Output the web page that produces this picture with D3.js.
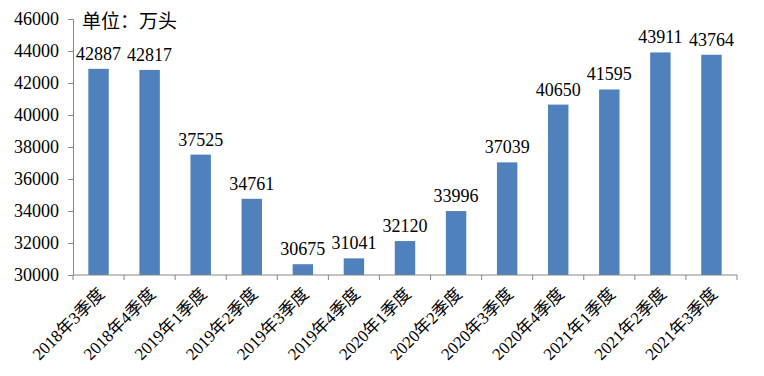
<!DOCTYPE html>
<html>
<head>
<meta charset="utf-8">
<script src="https://cdn.jsdelivr.net/npm/d3@7"></script>
<style>
  body { margin: 0; background: #fff; }
  text { font-family: "Liberation Serif", "Noto Sans CJK SC", serif; }
</style>
</head>
<body>
<div id="chart"></div>
<script>
var width = 764;
var height = 376;

// data
var quarters = ["2018年3季度", "2018年4季度", "2019年1季度", "2019年2季度", "2019年3季度",
                "2019年4季度", "2020年1季度", "2020年2季度", "2020年3季度", "2020年4季度",
                "2021年1季度", "2021年2季度", "2021年3季度"];
var stock = [42887, 42817, 37525, 34761, 30675, 31041, 32120, 33996, 37039, 40650, 41595, 43911, 43764];
var yTicks = [30000, 32000, 34000, 36000, 38000, 40000, 42000, 44000, 46000];
var unitLabel = "单位：万头";

var plotLeft = 73, plotRight = 737, plotTop = 19, plotBottom = 275;

var svg = d3.select("#chart").append("svg")
            .attr("width", width)
            .attr("height", height);

var x = d3.scaleBand().domain(quarters).range([plotLeft, plotRight]).paddingInner(0.6).paddingOuter(0.3);
var xTickPos = d3.scaleLinear().domain([0, quarters.length]).range([plotLeft, plotRight]);
var y = d3.scaleLinear().domain([30000, 46000]).range([plotBottom, plotTop]);

// bars
svg.append("g").selectAll("rect")
   .data(stock)
   .join("rect")
   .attr("x", function(d, i) { return x(quarters[i]); })
   .attr("y", function(d) { return y(d); })
   .attr("width", x.bandwidth())
   .attr("height", function(d) { return plotBottom - y(d); })
   .attr("fill", "#4F81BD");

// value labels
svg.append("g").selectAll("text")
   .data(stock)
   .join("text")
   .attr("x", function(d, i) { return x(quarters[i]) + x.bandwidth() / 2; })
   .attr("y", function(d) { return y(d) - 9; })
   .attr("text-anchor", "middle")
   .attr("font-size", 18)
   .attr("fill", "#000")
   .text(function(d) { return d; });

// y axis
var yAxis = svg.append("g")
   .attr("transform", "translate(" + plotLeft + ",0)")
   .call(d3.axisLeft(y).tickValues(yTicks).tickSize(5).tickPadding(9).tickFormat(d3.format("d")));
yAxis.select(".domain").attr("stroke", "#868686");
yAxis.selectAll(".tick line").attr("stroke", "#868686");
yAxis.selectAll(".tick text").attr("font-size", 18).attr("fill", "#000")
     .style("font-family", "'Liberation Serif', serif");

// x axis line and ticks between bands
svg.append("line")
   .attr("x1", plotLeft).attr("x2", plotRight)
   .attr("y1", plotBottom).attr("y2", plotBottom)
   .attr("stroke", "#868686");
svg.append("g").selectAll("line")
   .data(d3.range(quarters.length + 1))
   .join("line")
   .attr("x1", function(d) { return xTickPos(d); })
   .attr("x2", function(d) { return xTickPos(d); })
   .attr("y1", plotBottom).attr("y2", plotBottom + 5)
   .attr("stroke", "#868686");

// category labels
svg.append("g").selectAll("text")
   .data(quarters)
   .join("text")
   .attr("transform", function(d) {
       return "translate(" + (x(d) + x.bandwidth() / 2 + 7) + "," + (plotBottom + 20) + ") rotate(-45)";
   })
   .attr("text-anchor", "end")
   .attr("font-size", 17)
   .attr("fill", "#000")
   .text(function(d) { return d; });

// unit label
svg.append("text")
   .attr("x", 82)
   .attr("y", 28)
   .attr("font-size", 19)
   .attr("fill", "#000")
   .style("font-family", "'Noto Sans CJK SC', sans-serif")
   .text(unitLabel);
</script>
</body>
</html>
